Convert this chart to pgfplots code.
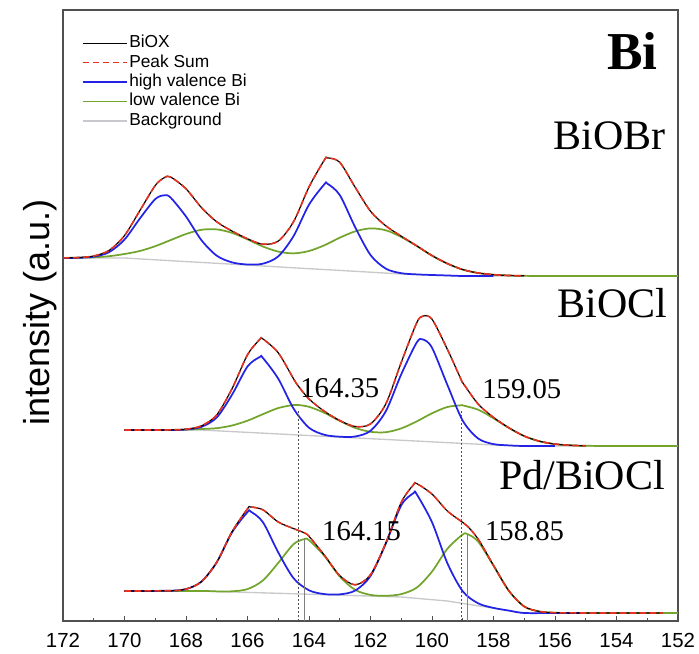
\documentclass[border=0pt]{standalone}
\usepackage{fontspec}
\setmainfont{Liberation Serif}
\setsansfont{Liberation Sans}
\usepackage{pgfplots}
\pgfplotsset{compat=1.18}
\definecolor{bblue}{RGB}{35,35,230}
\definecolor{lgreen}{RGB}{115,165,45}
\definecolor{sred}{RGB}{230,50,30}
\definecolor{bgrey}{RGB}{200,200,205}
\definecolor{axgrey}{RGB}{80,80,80}
\begin{document}
\begin{tikzpicture}
\begin{axis}[
  name=ax,
  width=461.25pt, height=458.25pt, scale only axis,
  xmin=152, xmax=172, ymin=0, ymax=611,
  x dir=reverse,
  xtick={152,154,...,172},
  minor x tick num=1,
  xtick pos=left,
  ytick=\empty,
  tick align=inside,
  major tick length=3.5pt, minor tick length=2.2pt,
  tick style={axgrey, line width=0.6pt},
  axis line style={axgrey, line width=0.8pt},
  xticklabel style={font=\sffamily\fontsize{15.3}{18}\selectfont, yshift=-5.5pt},
  /pgf/number format/assume math mode=true,
  ylabel={intensity (a.u.)},
  ylabel style={font=\sffamily\fontsize{27}{32}\selectfont, at={(axis description cs:-0.0374,0.505)}, anchor=center},
  legend cell align=left,
  legend style={draw=none, fill=none, font=\sffamily\fontsize{13}{15}\selectfont,
    at={(axis description cs:0,1)}, anchor=north west, xshift=14pt, yshift=-17.3pt,
    inner sep=0pt, row sep=0pt,
    nodes={text height=9.5pt, text depth=2.7pt, inner sep=1.2pt}},
  legend image code/.code={\draw[#1] (0pt,0pt) -- (28.5pt,0pt); \path (0pt,0pt) -- (33pt,0pt);},
]
\addlegendimage{black, line width=0.8pt}
\addlegendentry{BiOX}
\addlegendimage{sred, line width=1.2pt, dash pattern=on 5pt off 2.5pt}
\addlegendentry{Peak Sum}
\addlegendimage{bblue, line width=1.3pt}
\addlegendentry{high valence Bi}
\addlegendimage{lgreen, line width=1.3pt}
\addlegendentry{low valence Bi}
\addlegendimage{bgrey, line width=1pt}
\addlegendentry{Background}

% ===== BiOBr =====
\addplot[forget plot, bgrey, line width=1pt] coordinates {(172,363) (170,363) (169,361.2) (168,359.4) (167,357.7) (166,355.9) (165,354.1) (164,352.3) (163,350.6) (162,348.8) (161,347) (160,346) (159,345) (152,345)};
\addplot[forget plot, lgreen, line width=1.3pt, smooth] coordinates {(172,363.1) (171.5,363.25) (171,363.7) (170.5,364.8) (170,367.0) (169.5,370.0) (169,374.8) (168.5,380.9) (168,387.0) (167.5,391.2) (167,391.6) (166.5,388.1) (166,381.6) (165.5,374.5) (165,369.4) (164.5,367.6) (164,370.0) (163.5,375.7) (163,383.3) (162.5,389.6) (162,392.6) (161.5,390.7) (161,384.0) (160.5,375.1) (160,365.4) (159.5,357.4) (159,351.4) (158.5,348.0) (158,346.3) (157.5,345.5) (157,345.15) (156,345) (155,345) (154,345) (153,345) (152,345)};
\addplot[forget plot, bblue, line width=1.3pt, smooth] coordinates {(172,363) (171.5,363.2) (171,364.3) (170.5,368.8) (170,381.4) (169.5,402.5) (169,421.9) (168.7,425.7) (168.5,423.4) (168,404.5) (167.5,380.9) (167,365.3) (166.5,358.6) (166,356.5) (165.5,357.3) (165,364.6) (164.5,385.0) (164,416.3) (163.5,436.7) (163.4,437.3) (163,426.0) (162.5,393.9) (162,366.0) (161.5,352.3) (161,347.8) (160.5,346.6) (160,346) (159.5,345.5) (159,345) (158.5,345) (158,345)};
\addplot[forget plot, black, line width=0.9pt, smooth] coordinates {(172,363.1) (171.5,363.45) (171,365.0) (170.5,370.6) (170,385.4) (169.5,410.4) (169,435.5) (168.7,443.4) (168.5,444.0) (168,432.2) (167.5,413.5) (167,399.2) (166.5,389.9) (166,382.2) (165.5,376.8) (165,379.9) (164.5,399.4) (164,434.0) (163.5,461.0) (163.4,463.1) (163,458.7) (162.5,433.8) (162,409.8) (161.5,395.1) (161,384.8) (160.5,375.2) (160,365.4) (159.5,357.4) (159,351.4) (158.5,348.0) (158,346.3) (157.5,345.5) (157,345.15)};
\addplot[forget plot, sred, line width=1.2pt, dash pattern=on 5pt off 2.5pt, smooth] coordinates {(172,363.1) (171.5,363.45) (171,365.0) (170.5,370.6) (170,385.4) (169.5,410.4) (169,435.5) (168.7,443.4) (168.5,444.0) (168,432.2) (167.5,413.5) (167,399.2) (166.5,389.9) (166,382.2) (165.5,376.8) (165,379.9) (164.5,399.4) (164,434.0) (163.5,461.0) (163.4,463.1) (163,458.7) (162.5,433.8) (162,409.8) (161.5,395.1) (161,384.8) (160.5,375.2) (160,365.4) (159.5,357.4) (159,351.4) (158.5,348.0) (158,346.3) (157.5,345.5) (157,345.15)};

% ===== BiOCl =====
\addplot[forget plot, bgrey, line width=1pt] coordinates {(170,191) (167.5,191) (158,176) (157,175) (152,175)};
\addplot[forget plot, lgreen, line width=1.3pt, smooth] coordinates {(170,191) (169,191) (168.5,191.1) (168,191.3) (167.5,192.0) (167,192.8) (166.5,195.5) (166,200.3) (165.5,206.8) (165,212.95) (164.5,216.1) (164.35,216.0) (164,214.2) (163.5,208.2) (163,200.1) (162.5,193.1) (162,189.2) (161.5,188.8) (161,192.6) (160.5,199.55) (160,207.7) (159.5,214.0) (159.05,215.7) (159,215.6) (158.5,211.3) (158,202.7) (157.5,193.1) (157,184.9) (156.5,179.7) (156,176.9) (155.5,175.7) (155,175.2) (154,175) (153,175) (152,175)};
\addplot[forget plot, bblue, line width=1.3pt, smooth] coordinates {(170,191) (168.5,191) (168,191.5) (167.5,194.1) (167,203.5) (166.5,226.4) (166,254.5) (165.6,264.0) (165.5,263.1) (165,242.3) (164.5,212.3) (164,193.3) (163.5,186.2) (163,184.3) (162.5,184.5) (162,190.2) (161.5,209.9) (161,246.7) (160.5,278.35) (160.3,281.6) (160,273.3) (159.5,236.1) (159,200.3) (158.5,182.5) (158,176.9) (157.5,175.6) (157,175) (156,175)};
\addplot[forget plot, black, line width=0.9pt, smooth] coordinates {(170,191) (169,191) (168.5,191.1) (168,191.8) (167.5,195.1) (167,206.1) (166.5,232.5) (166,266.2) (165.6,281.5) (165.5,282.1) (165,268.2) (164.5,242.1) (164.35,235.0) (164,222.0) (163.5,209.7) (163,200.5) (162.5,194.5) (162,197.1) (161.5,217.2) (161,258.6) (160.5,297.95) (160.3,304.8) (160,301.8) (159.5,271.7) (159.05,241.2) (159,238.3) (158.5,217.0) (158,203.6) (157.5,193.2) (157,184.9) (156.5,179.7) (156,176.9) (155.5,175.7) (155,175.2)};
\addplot[forget plot, sred, line width=1.2pt, dash pattern=on 5pt off 2.5pt, smooth] coordinates {(170,191) (169,191) (168.5,191.1) (168,191.8) (167.5,195.1) (167,206.1) (166.5,232.5) (166,266.2) (165.6,281.5) (165.5,282.1) (165,268.2) (164.5,242.1) (164.35,235.0) (164,222.0) (163.5,209.7) (163,200.5) (162.5,194.5) (162,197.1) (161.5,217.2) (161,258.6) (160.5,297.95) (160.3,304.8) (160,301.8) (159.5,271.7) (159.05,241.2) (159,238.3) (158.5,217.0) (158,203.6) (157.5,193.2) (157,184.9) (156.5,179.7) (156,176.9) (155.5,175.7) (155,175.2)};

% ===== Pd/BiOCl =====
\addplot[forget plot, bgrey, line width=1pt] coordinates {(170,30) (167.5,30) (161,24) (159.5,20) (157,8) (152,8)};
\addplot[forget plot, lgreen, line width=1.3pt, smooth] coordinates {(170,30) (167.5,30) (167,29.6) (166.5,29.7) (166,31.9) (165.5,40.5) (165,58.1) (164.5,76.9) (164.15,81.9) (164,80.8) (163.5,65.2) (163,44.55) (162.5,31.2) (162,26.1) (161.5,25.2) (161,26.9) (160.5,33.3) (160,49.4) (159.5,72.2) (159,86.5) (158.85,86.9) (158.5,79.5) (158,55.3) (157.5,30.2) (157,14.5) (156.5,9.5) (156,8.3) (155.5,8) (155,8) (154,8) (153,8) (152,8)};
\addplot[forget plot, bblue, line width=1.3pt, smooth] coordinates {(170,30) (168.5,30.3) (168,31.9) (167.5,39.3) (167,58.7) (166.5,88.8) (166,108.9) (165.9,109.5) (165.5,98.9) (165,68.6) (164.5,42.7) (164,30.7) (163.5,26.9) (163,26.65) (162.5,30.4) (162,45.0) (161.5,77.5) (161,115.7) (160.6,127.9) (160.5,126.9) (160,98.8) (159.5,57.8) (159,29.7) (158.5,17.7) (158,13.1) (157.5,10.4) (157,8) (156,8) (155,8)};
\addplot[forget plot, black, line width=0.9pt, smooth] coordinates {(170,30) (168.5,30.3) (168,31.9) (167.5,39.3) (167,58.8) (166.5,89.4) (166,112.2) (165.9,114.0) (165.5,111.2) (165,99.0) (164.5,92.4) (164.15,88.1) (164,84.7) (163.5,65.8) (163,45.35) (162.5,36.2) (162,46.2) (161.5,78.2) (161,118.6) (160.6,136.3) (160.5,137.5) (160,126.9) (159.5,110.0) (159,98.6) (158.85,94.9) (158.5,82.0) (158,55.6) (157.5,30.2) (157,14.5) (156.5,9.5) (156,8.3) (155,8) (154,8) (153,8) (152.5,8)};
\addplot[forget plot, sred, line width=1.2pt, dash pattern=on 5pt off 2.5pt, smooth] coordinates {(170,30) (168.5,30.3) (168,31.9) (167.5,39.3) (167,58.8) (166.5,89.4) (166,112.2) (165.9,114.0) (165.5,111.2) (165,99.0) (164.5,92.4) (164.15,88.1) (164,84.7) (163.5,65.8) (163,45.35) (162.5,36.2) (162,46.2) (161.5,78.2) (161,118.6) (160.6,136.3) (160.5,137.5) (160,126.9) (159.5,110.0) (159,98.6) (158.85,94.9) (158.5,82.0) (158,55.6) (157.5,30.2) (157,14.5) (156.5,9.5) (156,8.3) (155,8) (154,8) (153,8) (152.5,8)};

% ===== guide lines =====
\addplot[forget plot, axgrey, line width=0.8pt, dash pattern=on 1.5pt off 1.5pt] coordinates {(164.35,0) (164.35,210)};
\addplot[forget plot, axgrey, line width=0.8pt, dash pattern=on 1.5pt off 1.5pt] coordinates {(159.05,0) (159.05,210)};
\addplot[forget plot, gray, line width=1pt] coordinates {(164.15,0) (164.15,82)};
\addplot[forget plot, gray, line width=1pt] coordinates {(158.85,0) (158.85,86)};

% ===== texts =====
\node[anchor=base east, inner sep=0pt, font=\bfseries\fontsize{40}{48}\selectfont] at (axis cs:152.65,551) {Bi};
\node[anchor=base east, inner sep=0pt, font=\fontsize{31.5}{38}\selectfont] at (axis cs:152.39,471) {BiOBr};
\node[anchor=base east, inner sep=0pt, font=\fontsize{31.5}{38}\selectfont] at (axis cs:152.33,303) {BiOCl};
\node[anchor=base east, inner sep=0pt, font=\fontsize{31.5}{38}\selectfont] at (axis cs:152.42,131) {Pd/BiOCl};
\node[anchor=base west, inner sep=0pt, font=\fontsize{21.5}{26}\selectfont] at (axis cs:164.29,223) {164.35};
\node[anchor=base west, inner sep=0pt, font=\fontsize{21.5}{26}\selectfont] at (axis cs:158.37,222) {159.05};
\node[anchor=base west, inner sep=0pt, font=\fontsize{21.5}{26}\selectfont] at (axis cs:163.58,81) {164.15};
\node[anchor=base west, inner sep=0pt, font=\fontsize{21.5}{26}\selectfont] at (axis cs:158.28,81) {158.85};
\end{axis}
\pgfresetboundingbox
\path ([shift={(-47.25pt,-24pt)}]ax.south west) rectangle ([shift={(15.75pt,7.5pt)}]ax.north east);
\end{tikzpicture}
\end{document}
